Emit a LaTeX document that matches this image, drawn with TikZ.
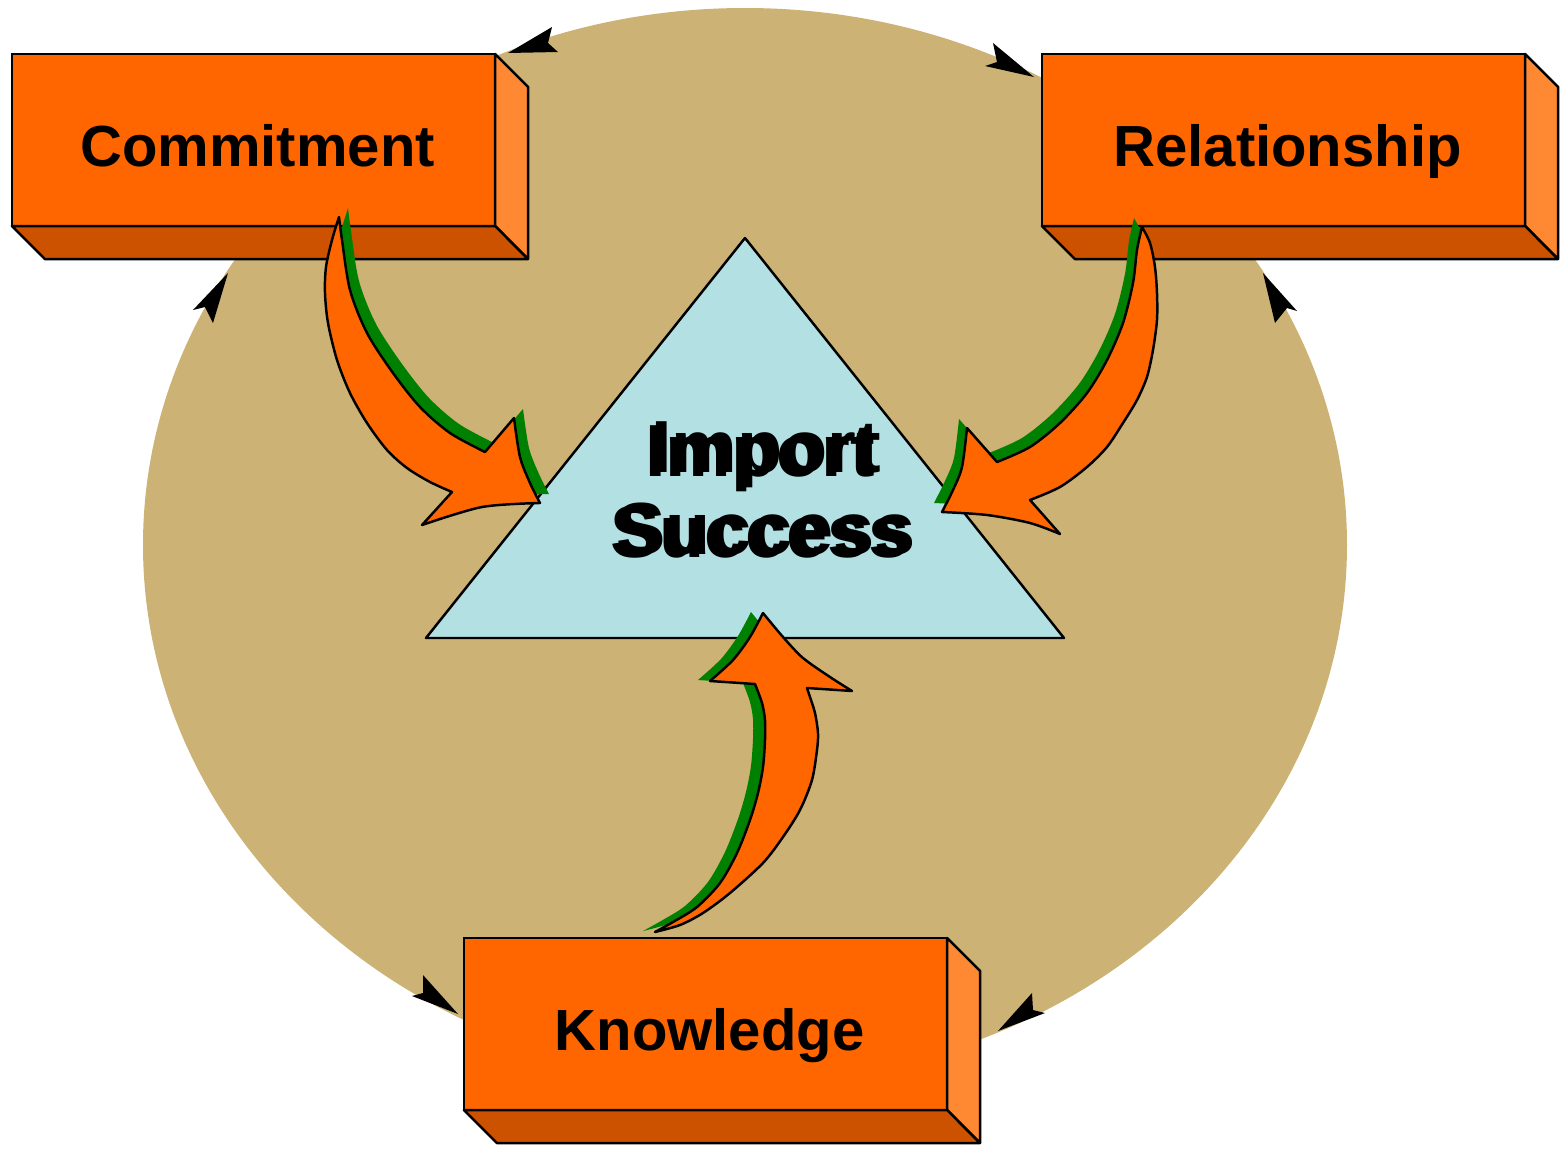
\documentclass[tikz,border=0pt]{standalone}
\usepackage{fontspec}
\setmainfont{Liberation Sans}
\usetikzlibrary{shadows}

\definecolor{ringtan}{RGB}{204,178,116}
\definecolor{boxfront}{RGB}{255,102,0}
\definecolor{boxright}{RGB}{255,136,51}
\definecolor{boxunder}{RGB}{204,82,0}
\definecolor{tripale}{RGB}{179,224,227}
\definecolor{shadowgreen}{RGB}{0,128,0}

% doubled text, like a shadow
\newcommand{\dbltext}[1]{\rlap{\kern-1.7pt\raisebox{-1.1pt}{#1}}#1}

\tikzset{
  box/.style={draw, line width=0.7pt, fill=boxfront, minimum width=4.83cm,
    minimum height=1.72cm, outer sep=0pt, inner sep=0pt, text height=14.8pt,
    text depth=0pt, execute at begin node=\hspace*{2.3pt},
    font=\fontsize{16.5}{19}\selectfont\bfseries},
  face/.style={draw, line width=0.7pt, line join=round},
  flow/.style={draw, line width=0.7pt, line join=round, fill=boxfront},
  goal/.style={inner sep=0pt, align=center, font=\fontsize{21}{23.3}\selectfont\bfseries}
}

\begin{document}
\begin{tikzpicture}[x=0.01cm, y=-0.01cm]
\useasboundingbox (0,0) rectangle (1562,1151);

% Ring
\fill[ringtan] (745,545) ellipse [x radius=602, y radius=537];

% Arrow heads on the ring
\foreach \hd/\lb/\nc/\rb in {{508,53}/{552,27}/{548,43}/{558,52},
    {1034,77}/{993,43}/{997,62}/{985,66},
    {228,273}/{193,310}/{205,307}/{213,323},
    {1263,273}/{1297,311}/{1287,308}/{1275,323},
    {458,1014}/{423,975}/{423,993}/{412,996},
    {998,1031}/{1032,993}/{1033,1010}/{1045,1013}}
  \fill[black] (\hd) -- (\lb) -- (\nc) -- (\rb) -- cycle;

% Triangle
\filldraw[fill=tripale, line width=0.7pt, line join=round] (745,238) -- (1064,638) -- (426,638) -- cycle;

% Boxes
\node[box] (commit) at (253.5,140) {Commitment};
\node[box] (relat) at (1283.5,140) {Relationship};
\node[box] (know) at (705.5,1024) {Knowledge};
\foreach \b in {commit,relat,know}{
  \filldraw[face, fill=boxright] (\b.north east) -- ++(33,33) -- ++(0,172) -- (\b.south east) -- cycle;
  \filldraw[face, fill=boxunder] (\b.south west) -- ++(33,33) -- ++(483,0) -- (\b.south east) -- cycle;
}

% Import Success
\node[goal] (succ) at (766,490) {\dbltext{Import}\\\dbltext{Success}};

% Commitment to Import Success
\filldraw[flow, drop shadow={shadow xshift=0.09cm, shadow yshift=0.09cm, fill=shadowgreen, opacity=1}]
  plot[smooth] coordinates {(339,217) (332,240) (326,267) (325,293) (328,323) (337,360) (350,393)
    (367,423) (387,450) (407,468) (430,482) (452,492)}
  -- (422,525)
  -- plot[smooth] coordinates {(422,525) (482,507) (540,503)}
  -- plot[smooth] coordinates {(540,503) (530,483) (520,457) (514,418)}
  -- (485,452)
  -- plot[smooth] coordinates {(485,452) (450,433) (420,407) (393,373) (367,333) (350,290) (342,240) (339,217)}
  -- cycle;

% Relationship to Import Success
\filldraw[flow, drop shadow={shadow xshift=-0.08cm, shadow yshift=0.09cm, fill=shadowgreen, opacity=1}]
  plot[smooth] coordinates {(1142,227) (1150,243) (1155,267) (1157,293) (1157,320) (1153,350)
    (1147,377) (1137,400) (1123,423) (1107,447) (1087,467) (1060,487) (1030,500)}
  -- (1060,534)
  -- plot[smooth] coordinates {(1060,534) (1030,523) (987,515) (942,512)}
  -- plot[smooth] coordinates {(942,512) (953,490) (962,467) (967,428)}
  -- (997,462)
  -- plot[smooth] coordinates {(997,462) (1030,447) (1060,423) (1087,393) (1107,360) (1123,323)
    (1133,283) (1137,250) (1142,227)}
  -- cycle;

% Knowledge to Import Success
\filldraw[flow, drop shadow={shadow xshift=-0.12cm, shadow yshift=0.01cm, fill=shadowgreen, opacity=1}]
  plot[smooth] coordinates {(655,932) (680,925) (703,913) (730,893) (763,863) (783,837) (800,810)
    (812,780) (817,750) (818,733) (815,713) (810,697) (807,688)}
  -- (852,691)
  -- plot[smooth] coordinates {(852,691) (830,677) (803,658) (783,637) (763,613)}
  -- plot[smooth] coordinates {(763,613) (750,637) (733,660) (710,681)}
  -- (755,684)
  -- plot[smooth] coordinates {(755,684) (762,703) (765,720) (765,740) (763,767) (758,793) (750,820)
    (737,853) (720,883) (697,907) (673,922) (655,932)}
  -- cycle;
\end{tikzpicture}
\end{document}
